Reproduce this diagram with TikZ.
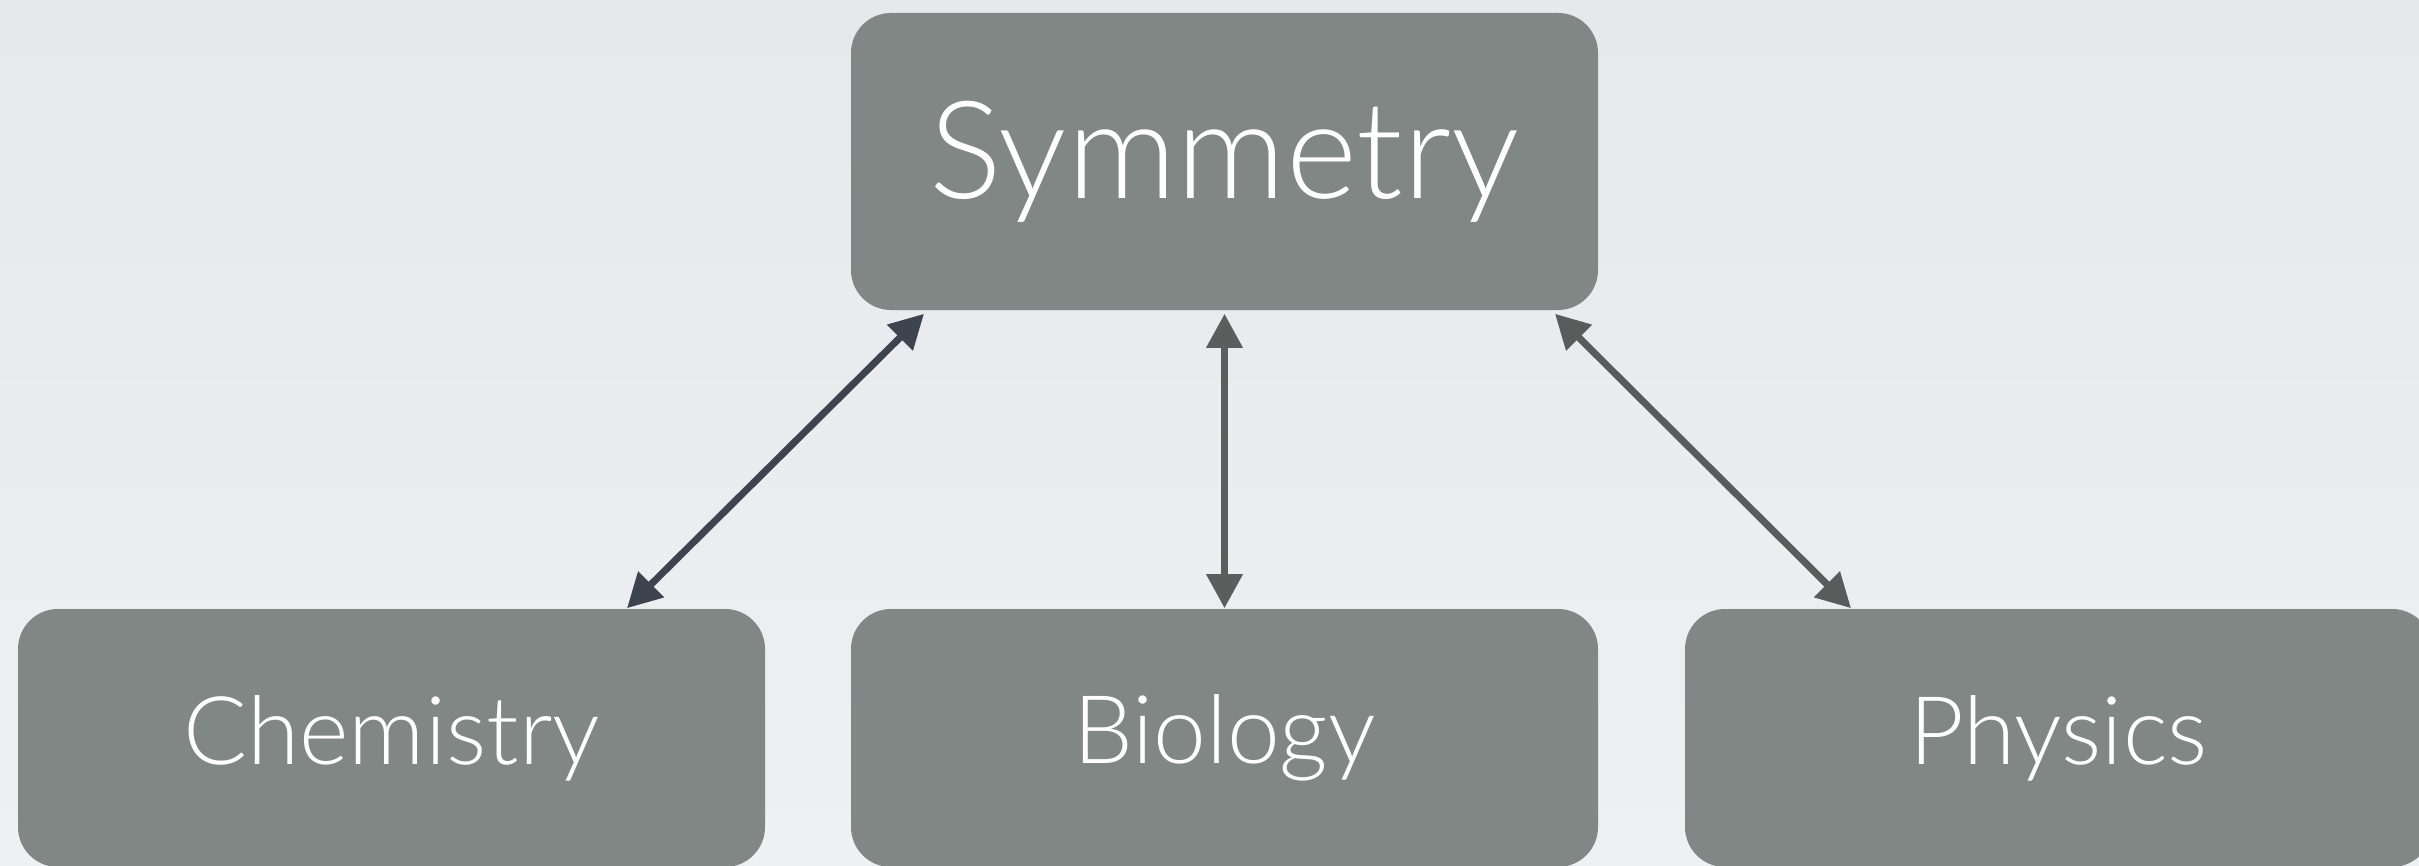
\documentclass[tikz,border=0pt]{standalone}
\usepackage{fontspec}
\newfontfamily\gill{Lato Light}
\usetikzlibrary{arrows.meta,calc}
\definecolor{bgtop}{HTML}{E6E8EB}
\definecolor{bgbot}{HTML}{EFF0F2}
\definecolor{boxfill}{HTML}{818784}
\definecolor{arrowA}{HTML}{3D4450}
\definecolor{arrowB}{HTML}{5A5E5C}
\definecolor{arrowC}{HTML}{585C5B}
\tikzset{
  topic/.style={rectangle, rounded corners=10pt, fill=boxfill, text=white,
    minimum width=747*0.25pt, inner sep=0pt, font=\gill},
  bigtopic/.style={topic, minimum height=297*0.25pt, font=\gill\fontsize{34}{40}\selectfont},
  subtopic/.style={topic, minimum height=258*0.25pt, font=\gill\fontsize{23.7}{28}\selectfont},
  link/.style={line width=1.75pt, {Triangle[length=8.5pt,width=8.75pt]}-{Triangle[length=8.5pt,width=8.75pt]}}
}
\begin{document}
\begin{tikzpicture}[x=0.25pt,y=-0.25pt]
  % canvas
  \useasboundingbox (0,0) rectangle (2419,866);
  \clip (0,0) rectangle (2419,866);
  \shade[top color=bgtop, bottom color=bgbot] (0,0) rectangle (2419,866);

  % boxes
  \node[bigtopic] (sym)  at (1224.5,161.5) {Symmetry};
  \node[subtopic] (chem) at (391.5,738)    {Chemistry};
  \node[subtopic] (bio)  at (1224.5,738)   {Biology};
  \node[subtopic] (phys) at (2058.5,738)   {Physics};

  % two-way links
  \draw[link, arrowA] ($(chem.north)+(235.5,0)$) -- ($(sym.south)+(-300.5,3)$);
  \draw[link, arrowB] (bio.north) -- ($(sym.south)+(0,3)$);
  \draw[link, arrowC] ($(phys.north)+(-207.5,0)$) -- ($(sym.south)+(330.5,3)$);
\end{tikzpicture}
\end{document}
